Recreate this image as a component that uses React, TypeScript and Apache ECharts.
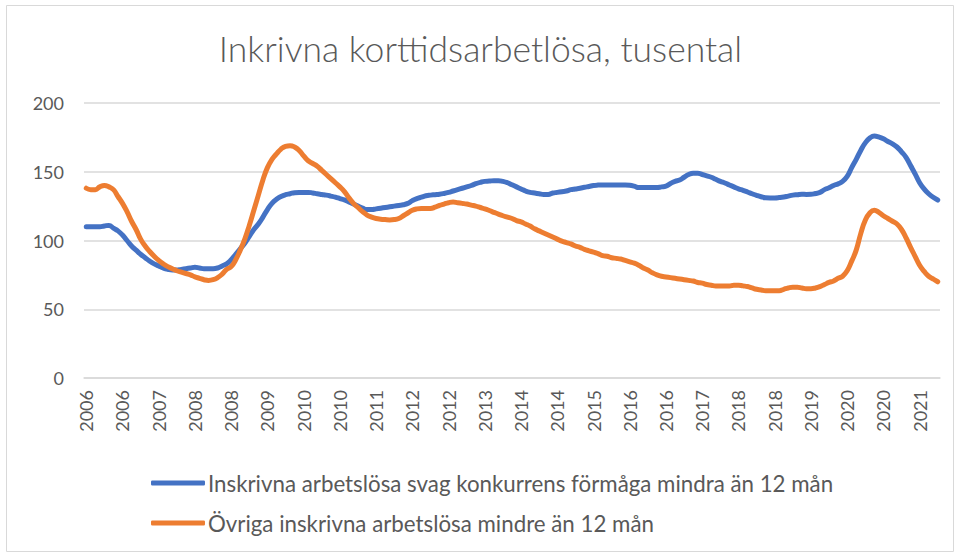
import React, { useEffect, useRef } from "react";
import * as echarts from "echarts";

const TITLE = "Inkrivna korttidsarbetlösa, tusental";
const SERIES_NAMES = [
  "Inskrivna arbetslösa svag konkurrens förmåga mindra än 12 mån",
  "Övriga inskrivna arbetslösa mindre än 12 mån",
];
const START_YEAR = 2006;
const MONTH_COUNT = 189; // Jan 2006 .. Sep 2021, monthly
const Y_TICKS = [0, 50, 100, 150, 200];

// Inskrivna arbetslösa svag konkurrensförmåga (tusental), monthly
const weakCompetition: number[] = [
  110, 110, 110, 110, 110.5, 111, 109, 107, 104, 100, 96, 93, 90, 87.5, 85, 83,
  81.5, 80, 79, 78.5, 78.5, 79, 79.5, 80, 80.5, 80, 79.5, 79.5, 79.5, 80, 81.5, 83,
  86, 90, 94, 98, 103, 108, 112, 117, 122.5, 127, 130, 132, 133.3, 134, 134.8, 135,
  135, 135, 134.6, 134, 133.5, 133, 132.3, 131.5, 130.5, 129.5, 128, 126.5, 125, 123.5, 122.5, 122.5,
  123, 123.5, 124, 124.5, 125, 125.5, 126, 127, 129, 130.5, 131.5, 132.5, 133, 133.3, 133.6, 134.2,
  135, 136, 137, 138, 139, 140, 141.3, 142.3, 143, 143.2, 143.5, 143.5, 143, 142, 140.5, 139,
  137.5, 136, 135, 134.5, 134, 133.5, 133.5, 134.5, 135, 135.5, 136, 137, 137.5, 138, 138.7, 139.3,
  140, 140.3, 140.4, 140.4, 140.4, 140.4, 140.4, 140.4, 140.2, 139.5, 138.5, 138.5, 138.5, 138.5, 138.5,
  139, 139.5, 141.5, 143, 144, 146, 148, 149, 149, 148, 147, 146, 144.5, 143, 141.8, 140.4,
  139, 137.6, 136.5, 135.3, 134, 132.8, 131.8, 131.1, 131, 131, 131.2, 131.6, 132.3, 133, 133.3, 133.6,
  133.5, 133.6, 134.2, 135, 137, 138.3, 140, 141.2, 143, 146.6, 153, 159, 165.5, 171, 174.5, 176,
  175.3, 174, 172, 170.3, 168, 164.5, 160.5, 154.5, 148.5, 142, 137.5, 134, 131.4, 129.4,
];

// Övriga inskrivna arbetslösa (tusental), monthly
const others: number[] = [
  138, 137, 137, 139, 140, 139, 137, 132, 127, 121, 114, 108, 101, 96, 92, 88.5,
  85.5, 83, 81, 79.5, 78, 77, 76, 75, 73.5, 72.5, 71.5, 71, 71.5, 73, 75.5, 79,
  81, 86, 93, 101, 111, 122, 133, 144, 153, 159, 163, 166.5, 168.5, 169, 168, 165.5,
  161.5, 158, 156, 154, 151, 148, 145, 142, 139, 135.5, 131, 127, 124, 121, 118.5, 117,
  116, 115.5, 115.2, 115, 115.2, 116, 118, 120, 122, 123, 123.3, 123.3, 123.3, 124.2, 125.5, 126.5,
  127.5, 128, 127.5, 127, 126.5, 125.7, 125, 124, 123, 121.8, 120.5, 119.2, 118, 117, 116,
  114.5, 113.5, 112, 110.5, 108.5, 107, 105.5, 104, 102.5, 101, 99.5, 98.5, 97.5, 96, 95, 93.5,
  92.5, 91.5, 90.5, 89, 88.5, 87.5, 87, 86.5, 85.5, 84.5, 83.5, 82, 80, 78.5, 76.5, 75, 74,
  73.5, 73, 72.5, 72, 71.5, 71, 70.5, 69.5, 69, 68, 67.5, 67, 67, 67, 67, 67.5,
  67.5, 67, 66.5, 65.5, 64.5, 64, 63.5, 63.5, 63.5, 63.5, 64.5, 65.5, 66, 66, 65.5,
  65, 65, 65.5, 66.5, 68, 69.5, 70.6, 72.5, 74, 78, 85, 93, 105, 114.7, 120, 122,
  120.5, 118, 116, 114, 112, 108, 102, 95, 88.5, 82, 77.5, 74, 72, 70,
];

const categories: string[] = Array.from({ length: MONTH_COUNT }, (_, i) =>
  String(START_YEAR + Math.floor(i / 12))
);

const FONT = "Lato, 'Noto Sans', sans-serif";
const GREY = "#595959";

export default function App() {
  const ref = useRef<HTMLDivElement>(null);
  useEffect(() => {
    if (!ref.current) return;
    const chart = echarts.init(ref.current, undefined, { renderer: "svg" });
    chart.setOption({
      animation: false,
      backgroundColor: "#ffffff",
      textStyle: { fontFamily: FONT },
      title: {
        text: TITLE,
        left: "center",
        top: 25,
        textStyle: { fontFamily: FONT, fontSize: 35.5, fontWeight: 300, color: GREY },
      },
      graphic: [
        {
          type: "rect",
          shape: { x: 6.5, y: 5.5, width: 947, height: 546 },
          style: { fill: "none", stroke: "#d9d9d9", lineWidth: 1 },
          silent: true,
        },
      ],
      grid: { left: 84, right: 21, top: 103, bottom: 180, containLabel: false },
      legend: {
        orient: "vertical",
        left: 146,
        top: 466,
        itemWidth: 54,
        itemHeight: 5,
        itemGap: 16,
        icon: "roundRect",
        textStyle: { fontFamily: FONT, fontSize: 22.3, color: GREY, lineHeight: 24, padding: [0, 0, 0, -2] },
        data: SERIES_NAMES,
      },
      xAxis: {
        type: "category",
        data: categories,
        boundaryGap: true,
        axisLine: { show: true, lineStyle: { color: "#d9d9d9", width: 1.5 } },
        axisTick: { show: false },
        axisLabel: {
          interval: 7,
          rotate: 90,
          margin: 12,
          color: GREY,
          fontSize: 18,
          fontFamily: FONT,
        },
      },
      yAxis: {
        type: "value",
        min: Y_TICKS[0],
        max: Y_TICKS[Y_TICKS.length - 1],
        interval: 50,
        axisLine: { show: false },
        axisTick: { show: false },
        splitLine: { lineStyle: { color: "#d9d9d9", width: 1.5 } },
        axisLabel: { color: GREY, fontSize: 18, fontFamily: FONT, margin: 20 },
      },
      series: [
        {
          name: SERIES_NAMES[0],
          type: "line",
          data: weakCompetition,
          smooth: true,
          showSymbol: false,
          lineStyle: { color: "#4472C4", width: 5, cap: "round" },
          itemStyle: { color: "#4472C4" },
        },
        {
          name: SERIES_NAMES[1],
          type: "line",
          data: others,
          smooth: true,
          showSymbol: false,
          lineStyle: { color: "#ED7D31", width: 5, cap: "round" },
          itemStyle: { color: "#ED7D31" },
        },
      ],
    });
    return () => chart.dispose();
  }, []);
  return (
    <div
      ref={ref}
      style={{ position: "fixed", left: 0, top: 0, width: 961, height: 558 }}
    />
  );
}
